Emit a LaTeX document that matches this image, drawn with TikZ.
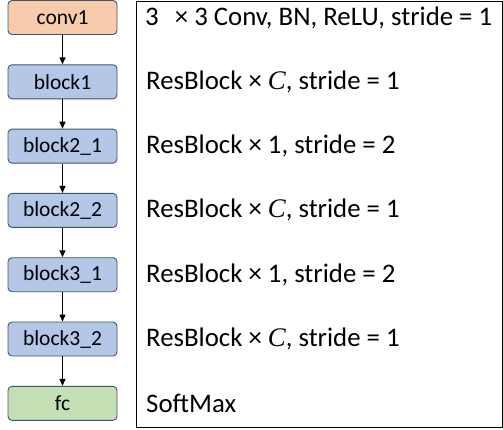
\documentclass[tikz,border=0pt]{standalone}
\usepackage{fontspec}
\setmainfont{Carlito}
\newfontfamily\mathlike{Liberation Serif}
\usetikzlibrary{arrows.meta}
\definecolor{borderc}{HTML}{41546B}
\definecolor{orangef}{HTML}{F8CBAD}
\definecolor{bluef}{HTML}{B4C7E7}
\definecolor{greenf}{HTML}{C5E0B4}
\newcommand{\varC}{{\mathlike\itshape C}}
\tikzset{
  blk/.style={draw=borderc, line width=0.9pt, rounded corners=4pt, minimum width=109pt, minimum height=34pt, inner sep=0pt, font=\fontsize{21.5}{24}\selectfont, text=black},
  desc/.style={anchor=west, inner sep=0pt, font=\fontsize{26.8}{30}\selectfont},
  conn/.style={-{Triangle[length=7pt,width=6pt]}, line width=1.1pt}
}
\begin{document}
\begin{tikzpicture}[x=1pt,y=-1pt]
\useasboundingbox (0,0) rectangle (503,429);
\node[blk, fill=orangef] (c1) at (62.5,17.5) {conv1};
\node[blk, fill=bluef] (b1) at (62.5,81.8) {block1};
\node[blk, fill=bluef] (b21) at (62.5,146.1) {block2\_1};
\node[blk, fill=bluef] (b22) at (62.5,210.4) {block2\_2};
\node[blk, fill=bluef] (b31) at (62.5,274.7) {block3\_1};
\node[blk, fill=bluef] (b32) at (62.5,339) {block3\_2};
\node[blk, fill=greenf] (fc) at (62.5,403.3) {fc};
\draw[conn] (c1) -- (b1);
\draw[conn] (b1) -- (b21);
\draw[conn] (b21) -- (b22);
\draw[conn] (b22) -- (b31);
\draw[conn] (b31) -- (b32);
\draw[conn] (b32) -- (fc);
\node[draw=black, line width=0.9pt, minimum width=366pt, minimum height=426pt, inner sep=0pt, anchor=north west] (panel) at (136,1) {};
\node[desc] (t1) at (145,17.5) {3\hspace{0.6em}× 3 Conv, BN, ReLU, stride = 1};
\node[desc] (t2) at (146,81.8) {ResBlock × \varC, stride = 1};
\node[desc] (t3) at (146,146.1) {ResBlock × 1, stride = 2};
\node[desc] (t4) at (146,210.4) {ResBlock × \varC, stride = 1};
\node[desc] (t5) at (146,274.7) {ResBlock × 1, stride = 2};
\node[desc] (t6) at (146,339) {ResBlock × \varC, stride = 1};
\node[desc] (t7) at (146,403.3) {SoftMax};
\end{tikzpicture}
\end{document}
